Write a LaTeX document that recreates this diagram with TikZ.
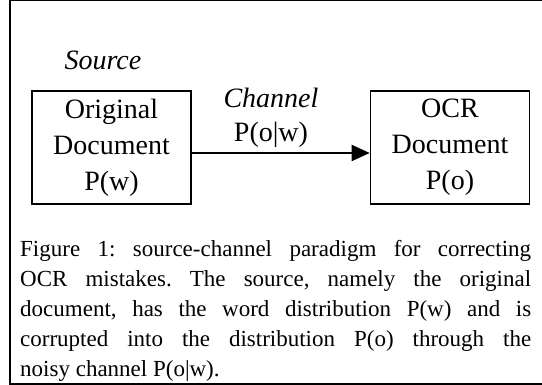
\documentclass[tikz,border=0pt]{standalone}
\usepackage{fontspec}
\setmainfont{Liberation Serif}
\usetikzlibrary{arrows.meta}

\begin{document}
\begin{tikzpicture}[x=1pt,y=-1pt, box/.style={draw,line width=1.6pt,minimum width=159pt,minimum height=113pt,inner sep=0pt,align=center,font=\fontsize{28}{36}\selectfont}, lbl/.style={anchor=base,font=\fontsize{28}{36}\selectfont}]
\useasboundingbox (0,0) rectangle (542,385);
\draw[line width=2pt](560,0.5)--(10,0.5)--(10,384)--(560,384);
\node[box] (orig) at (111.5,147.5) {Original\\Document\\P(w)};
\node[box] (ocr) at (450,147.5) {OCR\\Document\\P(o)};
\draw[line width=2pt,-{Triangle[length=18pt,width=16pt]}]([yshift=-5.5pt]orig.east)--([yshift=-5.5pt]ocr.west);
\node[lbl] (src) at (103,69.5) {\textit{Source}};
\node[lbl] (chan) at (271,108) {\textit{Channel}};
\node[lbl] (chanp) at (271,142) {P(o|w)};
\node[anchor=north west,inner sep=0pt,text width=511pt,align=justify,font=\fontsize{23}{30}\selectfont] (cap) at (20,240) {\hyphenpenalty=10000\frenchspacing Figure 1: source-channel paradigm for correcting\linebreak OCR mistakes. The source, namely the original\linebreak document, has the word distribution P(w) and is\linebreak corrupted into the distribution P(o) through the\linebreak noisy channel P(o|w).};
\end{tikzpicture}
\end{document}
